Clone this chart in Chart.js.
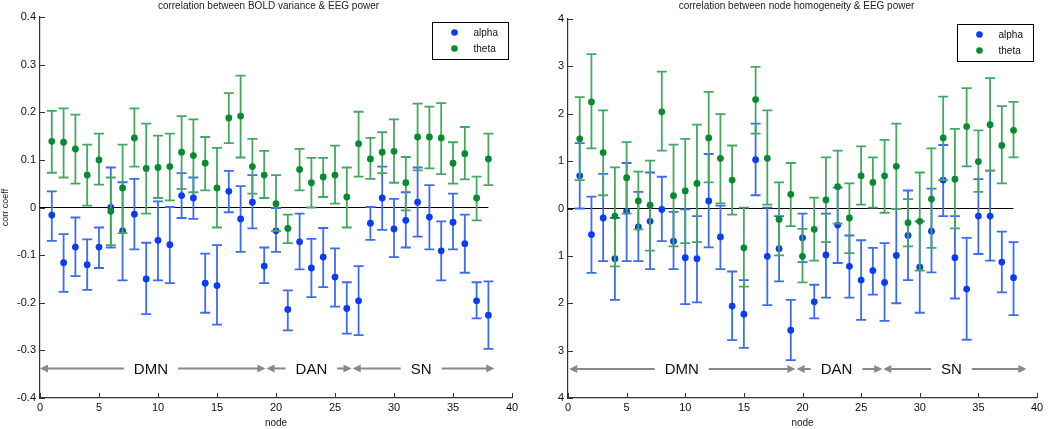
<!DOCTYPE html>
<html lang="en">
<head>
    <meta charset="UTF-8">
    <title>BOLD / homogeneity vs EEG power</title>
    <script src="https://cdn.jsdelivr.net/npm/chart.js@4.4.0/dist/chart.umd.min.js"></script>
    <style>
        html, body { margin: 0; padding: 0; background: #fff; }
        body { width: 1050px; height: 429px; position: relative; overflow: hidden; }
        .panel { position: absolute; top: 0; width: 525px; height: 429px; }
    </style>
</head>
<body>
    <div class="panel" style="left:0"><canvas id="boldChart"></canvas></div>
    <div class="panel" style="left:525px"><canvas id="homChart"></canvas></div>

    <script>
        // nodes 1..38
        const nodes = [1,2,3,4,5,6,7,8,9,10,11,12,13,14,15,16,17,18,19,20,21,22,23,24,25,26,27,28,29,30,31,32,33,34,35,36,37,38];

        // left panel: correlation between BOLD variance & EEG power
        const boldAlphaMean = [-0.016,-0.116,-0.083,-0.120,-0.083,0.000,-0.049,-0.014,-0.150,-0.069,-0.078,0.025,0.020,-0.159,-0.164,0.034,-0.024,0.011,-0.123,-0.049,-0.214,-0.072,-0.127,-0.104,-0.146,-0.212,-0.196,-0.033,0.020,-0.045,-0.027,0.011,-0.020,-0.091,-0.031,-0.076,-0.196,-0.226];
        const boldAlphaHigh = [0.034,-0.056,-0.021,-0.067,-0.042,0.084,0.053,0.060,-0.074,0.013,0.001,0.072,0.063,-0.097,-0.079,0.077,0.045,0.068,-0.084,-0.001,-0.174,-0.013,-0.066,-0.043,-0.086,-0.157,-0.123,0.001,0.086,0.018,0.032,0.084,0.047,-0.029,0.029,-0.015,-0.157,-0.155];
        const boldAlphaLow = [-0.070,-0.177,-0.144,-0.173,-0.127,-0.084,-0.153,-0.088,-0.224,-0.153,-0.159,-0.022,-0.024,-0.221,-0.246,-0.010,-0.093,-0.044,-0.159,-0.093,-0.258,-0.130,-0.188,-0.167,-0.208,-0.265,-0.268,-0.068,-0.047,-0.104,-0.084,-0.061,-0.088,-0.153,-0.088,-0.137,-0.233,-0.297];
        const boldThetaMean = [0.139,0.137,0.123,0.068,0.100,-0.008,0.041,0.146,0.082,0.084,0.086,0.116,0.109,0.093,0.041,0.188,0.192,0.086,0.068,0.008,-0.044,0.080,0.052,0.064,0.068,0.022,0.134,0.102,0.116,0.118,0.052,0.148,0.148,0.146,0.093,0.113,0.020,0.102];
        const boldThetaHigh = [0.203,0.208,0.195,0.132,0.155,0.063,0.132,0.208,0.176,0.151,0.155,0.192,0.185,0.148,0.125,0.240,0.277,0.144,0.119,0.068,-0.015,0.123,0.104,0.104,0.130,0.084,0.201,0.146,0.158,0.185,0.106,0.218,0.212,0.219,0.137,0.169,0.065,0.155];
        const boldThetaLow = [0.073,0.063,0.050,0.004,0.048,-0.079,-0.054,0.086,-0.013,0.020,0.015,0.039,0.032,0.036,-0.042,0.135,0.105,0.029,0.020,-0.049,-0.075,0.036,0.000,0.022,0.008,-0.042,0.065,0.060,0.072,0.052,-0.006,0.078,0.082,0.070,0.050,0.059,-0.027,0.047];
        const boldTickValues = [-0.4,-0.3,-0.2,-0.1,0,0.1,0.2,0.3,0.4];
        const boldTickLabels = ['-0.4','-0.3','-0.2','-0.1','0','0.1','0.2','0.3','0.4'];

        // right panel: correlation between node homogeneity & EEG power
        const homAlphaMean = [0.69,-0.55,-0.20,-1.06,-0.06,-0.39,-0.27,-0.02,-0.69,-1.04,-1.06,0.16,-0.60,-2.06,-2.23,1.03,-1.01,-0.85,-2.57,-0.62,-1.97,-0.98,-0.35,-1.22,-1.51,-1.31,-1.56,-0.99,-0.57,-1.24,-0.48,0.60,-1.04,-1.70,-0.16,-0.16,-1.13,-1.46];
        const homAlphaHigh = [1.38,0.25,0.73,-0.20,0.96,0.35,0.76,0.67,-0.07,-0.02,-0.16,1.15,0.06,-1.33,-1.51,1.79,0.02,-0.16,-1.93,-0.11,-1.61,-0.11,0.44,-0.57,-0.67,-0.83,-0.73,-0.01,0.38,-0.27,0.42,1.34,-0.16,-0.62,0.62,0.80,-0.49,-0.71];
        const homAlphaLow = [0.00,-1.36,-1.11,-1.93,-1.11,-1.11,-1.28,-0.69,-1.28,-2.02,-1.98,-0.82,-1.28,-2.78,-2.94,0.28,-2.04,-1.54,-3.20,-1.13,-2.32,-1.88,-1.15,-1.88,-2.35,-1.82,-2.37,-2.00,-1.51,-2.20,-1.35,-0.16,-1.90,-2.77,-0.96,-1.10,-1.77,-2.25];
        const homThetaMean = [1.47,2.25,1.18,-0.16,0.65,0.16,0.07,2.04,0.27,0.37,0.53,1.49,1.06,0.60,-0.83,2.30,1.06,-0.23,0.30,-1.01,-0.44,0.18,0.46,-0.20,0.69,0.55,0.69,0.89,-0.30,-0.27,0.20,1.49,0.62,1.73,0.99,1.77,1.33,1.65];
        const homThetaHigh = [2.35,3.26,2.07,0.87,1.40,0.78,1.01,2.89,1.35,1.47,1.77,2.46,1.99,1.33,0.02,2.99,2.07,0.55,0.96,-0.43,0.23,1.08,1.22,0.53,1.31,1.08,1.45,1.79,0.20,0.76,1.27,2.36,1.68,2.54,1.65,2.75,2.16,2.25];
        const homThetaLow = [0.60,1.27,0.28,-1.22,-0.11,-0.44,-0.89,1.22,-0.80,-0.73,-0.71,0.55,0.11,-0.13,-1.65,1.58,0.08,-0.99,-0.37,-1.56,-1.10,-0.71,-0.32,-0.94,0.08,0.02,-0.09,-0.01,-0.80,-1.31,-0.83,0.60,-0.42,0.89,0.35,0.80,0.53,1.08];
        const homTickValues = [-4,-3,-2,-1,0,1,2,3,4];
        const homTickLabels = ['4','3','2','1','0','1','2','3','4'];

        // networks along the node axis
        const netNames = ['DMN', 'DAN', 'SN'];
        const boldNetStart = [0, 19.2, 26.5];
        const boldNetEnd = [19.1, 26.4, 38.5];
        const boldNetLabelAt = [9.4, 23.0, 32.3];
        const homNetStart = [0.1, 19.5, 26.9];
        const homNetEnd = [19.4, 26.8, 39.1];
        const homNetLabelAt = [9.7, 22.9, 32.7];

        const xTickValues = [0,5,10,15,20,25,30,35,40];
        const seriesNames = ['alpha', 'theta'];

        const FONT = '"Liberation Sans", Arial, sans-serif';
        const alphaDot = '#0a3cf5', alphaBar = '#3d6cf2';
        const thetaDot = '#078a30', thetaBar = '#45a862';

        const panelPlugin = {
            id: 'panelExtras',
            beforeDatasetsDraw(chart) {
                const {ctx, chartArea: a, scales: {x, y}} = chart;
                const o = chart.options.plugins.panelExtras;
                ctx.save();
                // zero line
                ctx.strokeStyle = '#000';
                ctx.lineWidth = 1;
                ctx.beginPath();
                ctx.moveTo(x.getPixelForValue(0), y.getPixelForValue(0));
                ctx.lineTo(x.getPixelForValue(38), y.getPixelForValue(0));
                ctx.stroke();
                // inward tick marks
                ctx.strokeStyle = '#333';
                ctx.beginPath();
                y.ticks.forEach(t => {
                    const py = Math.round(y.getPixelForValue(t.value)) + 0.5;
                    ctx.moveTo(a.left, py); ctx.lineTo(a.left + 5, py);
                });
                x.ticks.forEach(t => {
                    const px = Math.round(x.getPixelForValue(t.value)) + 0.5;
                    ctx.moveTo(px, a.bottom); ctx.lineTo(px, a.bottom - 5);
                });
                ctx.stroke();
                ctx.restore();
            },
            beforeDatasetDraw(chart, args) {
                const ds = chart.data.datasets[args.index];
                const {ctx, scales: {x, y}} = chart;
                ctx.save();
                ctx.strokeStyle = ds.barColor;
                ctx.lineWidth = 1.8;
                ctx.beginPath();
                ds.data.forEach((p, i) => {
                    const px = x.getPixelForValue(p.x);
                    const yHi = y.getPixelForValue(ds.errHigh[i]);
                    const yLo = y.getPixelForValue(ds.errLow[i]);
                    ctx.moveTo(px, yHi); ctx.lineTo(px, yLo);
                    ctx.moveTo(px - 5, yHi); ctx.lineTo(px + 5, yHi);
                    ctx.moveTo(px - 5, yLo); ctx.lineTo(px + 5, yLo);
                });
                ctx.stroke();
                ctx.restore();
            },
            afterDraw(chart) {
                const {ctx, chartArea: a, scales: {x, y}} = chart;
                const o = chart.options.plugins.panelExtras;
                ctx.save();

                // title
                ctx.fillStyle = '#222';
                ctx.font = '10px ' + FONT;
                ctx.textAlign = 'center';
                ctx.textBaseline = 'middle';
                ctx.fillText(o.title, o.titleX, 6);

                // network arrows
                const ay = y.getPixelForValue(o.arrowY);
                ctx.font = '15px ' + FONT;
                const head = (tip, dir) => {
                    ctx.beginPath();
                    ctx.moveTo(tip, ay);
                    ctx.lineTo(tip - dir * 8, ay - 4);
                    ctx.lineTo(tip - dir * 8, ay + 4);
                    ctx.closePath();
                    ctx.fill();
                };
                netNames.forEach((name, i) => {
                    const x0 = x.getPixelForValue(o.netStart[i]);
                    const x1 = x.getPixelForValue(o.netEnd[i]);
                    const xc = x.getPixelForValue(o.netLabelAt[i]);
                    const w = ctx.measureText(name).width;
                    ctx.fillStyle = '#111';
                    ctx.fillText(name, xc, ay + 1);
                    ctx.strokeStyle = '#888';
                    ctx.fillStyle = '#888';
                    ctx.lineWidth = 2;
                    ctx.beginPath();
                    ctx.moveTo(x0 + 6, ay); ctx.lineTo(xc - w / 2 - 10, ay);
                    ctx.moveTo(xc + w / 2 + 10, ay); ctx.lineTo(x1 - 6, ay);
                    ctx.stroke();
                    head(x0, -1);
                    head(x1, 1);
                });

                // legend box
                const bw = 76, bh = 37;
                const bx = Math.round(a.right - bw - 4) + 0.5, by = Math.round(a.top + 5) + 0.5;
                ctx.fillStyle = '#fff';
                ctx.fillRect(bx, by, bw, bh);
                ctx.strokeStyle = '#000';
                ctx.lineWidth = 1;
                ctx.strokeRect(bx, by, bw, bh);
                ctx.font = '10px ' + FONT;
                ctx.textAlign = 'left';
                [alphaDot, thetaDot].forEach((c, i) => {
                    const ly = by + 10 + i * 16;
                    ctx.fillStyle = c;
                    ctx.beginPath();
                    ctx.arc(bx + 22, ly, 3.3, 0, Math.PI * 2);
                    ctx.fill();
                    ctx.fillStyle = '#111';
                    ctx.fillText(seriesNames[i], bx + 41, ly + 1);
                });
                ctx.restore();
            }
        };

        function makePanel(canvasId, p) {
            const pts = vals => nodes.map((n, i) => ({ x: n, y: vals[i] }));
            return new Chart(document.getElementById(canvasId), {
                type: 'scatter',
                data: {
                    datasets: [
                        {
                            label: seriesNames[0],
                            data: pts(p.alphaMean),
                            errHigh: p.alphaHigh,
                            errLow: p.alphaLow,
                            barColor: alphaBar,
                            backgroundColor: alphaDot,
                            borderWidth: 0,
                            pointRadius: 3.4,
                            order: 1
                        },
                        {
                            label: seriesNames[1],
                            data: pts(p.thetaMean),
                            errHigh: p.thetaHigh,
                            errLow: p.thetaLow,
                            barColor: thetaBar,
                            backgroundColor: thetaDot,
                            borderWidth: 0,
                            pointRadius: 3.4,
                            order: 0
                        }
                    ]
                },
                options: {
                    responsive: true,
                    maintainAspectRatio: false,
                    animation: false,
                    events: [],
                    layout: { padding: { top: p.padTop, right: 13, left: 0, bottom: 0 } },
                    scales: {
                        x: {
                            type: 'linear',
                            min: 0,
                            max: 40,
                            afterBuildTicks: s => { s.ticks = xTickValues.map(v => ({ value: v })); },
                            afterFit: s => { s.height = 31; },
                            grid: { display: false, drawTicks: false },
                            border: { display: true, color: '#333', width: 1.2 },
                            ticks: { padding: 3, color: '#111', font: { family: FONT, size: 11 }, maxRotation: 0 },
                            title: { display: true, text: 'node', color: '#222', font: { family: FONT, size: 10 }, padding: 0 }
                        },
                        y: {
                            type: 'linear',
                            min: p.yMin,
                            max: p.yMax,
                            afterBuildTicks: s => { s.ticks = p.tickValues.map(v => ({ value: v })); },
                            afterFit: s => { s.width = p.yWidth; },
                            grid: { display: false, drawTicks: false },
                            border: { display: true, color: '#333', width: 1.2 },
                            ticks: {
                                padding: 4,
                                color: '#111',
                                font: { family: FONT, size: 11 },
                                callback: v => p.tickLabels[p.tickValues.findIndex(t => Math.abs(t - v) < 1e-9)]
                            },
                            title: { display: !!p.yTitle, text: p.yTitle || '', color: '#222', font: { family: FONT, size: 9 }, padding: 0 }
                        }
                    },
                    plugins: {
                        legend: { display: false },
                        tooltip: { enabled: false },
                        panelExtras: {
                            title: p.title,
                            titleX: p.titleX,
                            arrowY: p.arrowY,
                            netStart: p.netStart,
                            netEnd: p.netEnd,
                            netLabelAt: p.netLabelAt
                        }
                    }
                },
                plugins: [panelPlugin]
            });
        }

        makePanel('boldChart', {
            alphaMean: boldAlphaMean, alphaHigh: boldAlphaHigh, alphaLow: boldAlphaLow,
            thetaMean: boldThetaMean, thetaHigh: boldThetaHigh, thetaLow: boldThetaLow,
            yMin: -0.4, yMax: 0.4, tickValues: boldTickValues, tickLabels: boldTickLabels,
            yTitle: 'corr coeff', yWidth: 40, padTop: 17,
            title: 'correlation between BOLD variance & EEG power', titleX: 268.5,
            arrowY: -0.338, netStart: boldNetStart, netEnd: boldNetEnd, netLabelAt: boldNetLabelAt
        });

        makePanel('homChart', {
            alphaMean: homAlphaMean, alphaHigh: homAlphaHigh, alphaLow: homAlphaLow,
            thetaMean: homThetaMean, thetaHigh: homThetaHigh, thetaLow: homThetaLow,
            yMin: -4, yMax: 4, tickValues: homTickValues, tickLabels: homTickLabels,
            yTitle: '', yWidth: 43, padTop: 19,
            title: 'correlation between node homogeneity & EEG power', titleX: 271.5,
            arrowY: -3.39, netStart: homNetStart, netEnd: homNetEnd, netLabelAt: homNetLabelAt
        });
    </script>
</body>
</html>
